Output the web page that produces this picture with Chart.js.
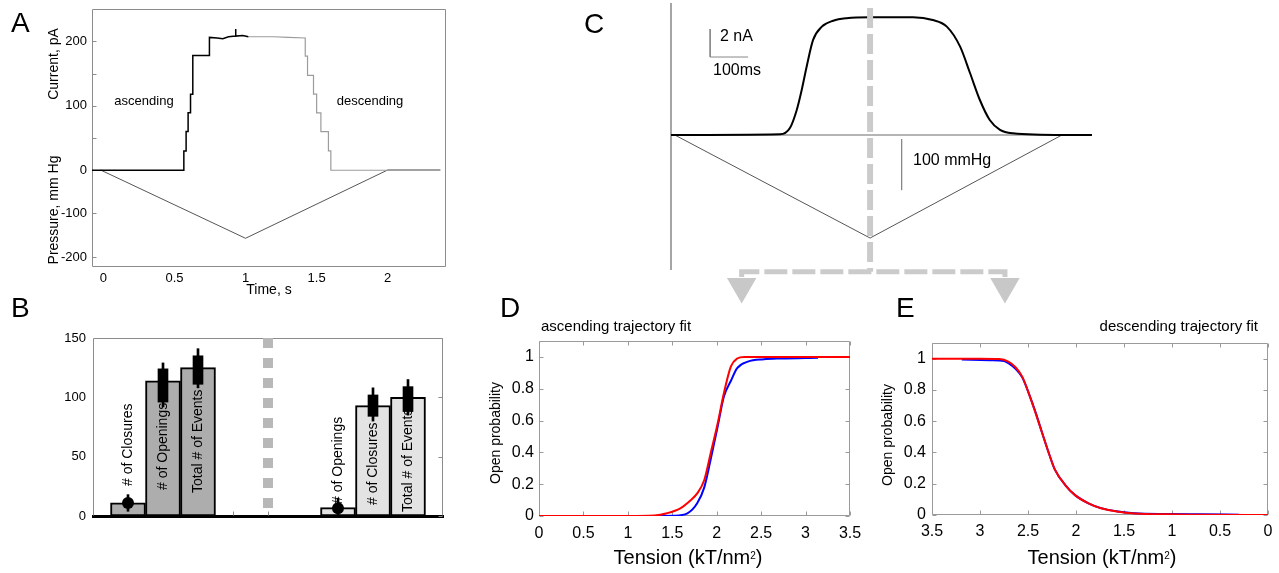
<!DOCTYPE html>
<html>
<head>
<meta charset="utf-8">
<title>Stretch-activated current and open probability fits</title>
<script src="https://cdn.jsdelivr.net/npm/chart.js@4.4.1/dist/chart.umd.min.js"></script>
<style>
  body { margin: 0; width: 1279px; height: 573px; position: relative; overflow: hidden; background: #fff;
         font-family: "Liberation Sans", Arial, sans-serif; color: #000; }
  canvas { position: absolute; left: 0; top: 0; }
  .t { position: absolute; white-space: nowrap; line-height: 1; transform: translateY(-50%); z-index: 5; }
  .c { transform: translate(-50%, -50%); }
  .v { transform: translate(-50%, -50%) rotate(-90deg); }
  .letter { font-size: 28px; }
  .sup { position: relative; top: -0.55em; font-size: 0.5em; }
</style>
</head>
<body>
<div class="t letter" style="left:11px;top:23px">A</div>
<div class="t letter" style="left:11px;top:308px">B</div>
<div class="t letter" style="left:584px;top:24px">C</div>
<div class="t letter" style="left:500px;top:308px">D</div>
<div class="t letter" style="left:896px;top:308px">E</div>

<div class="t c" style="left:144px;top:100px;font-size:13px">ascending</div>
<div class="t c" style="left:370px;top:100px;font-size:13px">descending</div>
<div class="t v" style="left:53px;top:64px;font-size:14px">Current, pA</div>
<div class="t v" style="left:53px;top:210px;font-size:14px">Pressure, mm Hg</div>
<div class="t c" style="left:269px;top:289px;font-size:14px">Time, s</div>

<div class="t" style="left:720px;top:36px;font-size:16px">2 nA</div>
<div class="t" style="left:713px;top:70px;font-size:16px">100ms</div>
<div class="t" style="left:913px;top:160px;font-size:16px">100 mmHg</div>

<div class="t" style="left:541px;top:325px;font-size:15px">ascending trajectory fit</div>
<div class="t v" style="left:495px;top:433px;font-size:14px">Open probability</div>
<div class="t c" style="left:688px;top:557px;font-size:20px">Tension (kT/nm<span class="sup">2</span>)</div>

<div class="t" style="right:21px;top:325px;font-size:15px">descending trajectory fit</div>
<div class="t v" style="left:887px;top:435px;font-size:14px">Open probability</div>
<div class="t c" style="left:1102px;top:557px;font-size:20px">Tension (kT/nm<span class="sup">2</span>)</div>

<script>
// ---- panel A: patch current (pA) and pressure ramp (mm Hg) vs time (s)
const aUpTime = [-0.08, 0.566, 0.566, 0.582, 0.582, 0.596, 0.596, 0.613, 0.613, 0.629, 0.629, 0.746, 0.746, 0.80, 0.84, 0.88, 0.93, 0.93, 0.932, 0.98, 1.02];
const aUpCurrent = [0, 0, 30, 30, 60, 60, 89, 89, 118, 118, 178, 178, 206, 205, 204, 207, 208, 219, 208, 209, 207];
const aDownTime = [1.02, 1.1, 1.2, 1.3, 1.42, 1.42, 1.436, 1.436, 1.478, 1.478, 1.50, 1.50, 1.53, 1.53, 1.583, 1.583, 1.60, 1.60, 2.37];
const aDownCurrent = [207, 207, 207, 206, 205, 177, 177, 147, 147, 118, 118, 89, 89, 60, 60, 30, 30, 0, 0];
const aPressTime = [-0.02, 1.0, 2.0, 2.37];
const aPressure = [0, -157, 0, 0];
const aCurrentTicks = [0, 50, 100, 150, 200];
const aPressureTicks = [-100, -200];

// ---- panel B: event counts
const bPositions = [1, 2, 3, 7, 8, 9];
const bCounts = [11, 114, 125, 7, 93, 100];
const bLabels = ['# of Closures', '# of Openings', 'Total # of Events', '# of Openings', '# of Closures', 'Total # of Events'];
const bWhiskerLow = [4, 92, 108, 0, 80, 85];
const bWhiskerHigh = [18, 129, 141, 15, 108, 115];
const bBoxLow = [null, 96, 111, null, 84, 88];
const bBoxHigh = [null, 124, 135, null, 102, 109];
const bMarker = [11, null, null, 6.5, null, null];
const bDividerX = 5;
const bDividerSpan = [150, 0];
const bTickX = [4, 5];

// ---- panel C: macroscopic current (nA) and pressure (mmHg) vs time (ms)
const cTime = [0, 287, 313, 331, 344, 357, 374, 397, 427, 462, 524, 637, 689, 726, 761, 787, 813, 839, 866, 900, 1032, 1108];
const cCurrent = [0, 0.05, 0.5, 1.79, 3.21, 4.88, 6.79, 7.74, 8.16, 8.34, 8.41, 8.41, 8.21, 7.74, 6.31, 4.43, 2.5, 1.07, 0.36, 0.12, 0, 0];
const cPressTime = [10, 524, 1029];
const cPressure = [0, -202, 0];
const cPressZeroTime = [0, 1032];
const cAxisSpan = [9.43, -9.64];
const cScaleBarTime = [103, 103, 203];
const cScaleBarCurrent = [7.57, 5.57, 5.57];
const cScaleBarPTime = [607, 607];
const cScaleBarPressure = [-8, -108];
const cPeakTime = 524;
const cPeakSpan = [9.07, -9.76];
const cSplitTime = [186, 186, 879, 879];
const cSplitLevel = [-10.14, -9.76, -9.76, -10.14];
const cArrowTime = [186, 879];
const cArrowLevel = [-10.82, -10.82];

// ---- panel D: ascending trajectory, open probability vs tension
const dFitTension = [0, 1.0, 1.3, 1.44, 1.59, 1.71, 1.78, 1.86, 1.93, 2.01, 2.08, 2.16, 2.23, 2.31, 3.5];
const dFitP = [0, 0, 0.003, 0.017, 0.048, 0.1, 0.142, 0.226, 0.39, 0.58, 0.77, 0.94, 0.99, 1, 1];
const dDataTension = [1.16, 1.52, 1.67, 1.78, 1.86, 1.93, 2.01, 2.08, 2.16, 2.23, 2.35, 2.53, 2.72, 3.14];
const dDataP = [0, 0.002, 0.017, 0.08, 0.18, 0.35, 0.56, 0.75, 0.85, 0.93, 0.97, 0.985, 0.99, 0.995];

// ---- panel E: descending trajectory
const eFitTension = [3.5, 3.0, 2.8, 2.7, 2.63, 2.56, 2.49, 2.42, 2.35, 2.28, 2.22, 2.11, 2.01, 1.87, 1.74, 1.56, 1.39, 1.05, 0.71, 0];
const eFitP = [1, 1, 0.998, 0.98, 0.945, 0.885, 0.775, 0.65, 0.52, 0.39, 0.29, 0.19, 0.127, 0.074, 0.043, 0.021, 0.01, 0.004, 0.002, 0];
const eDataTension = [3.19, 2.9, 2.75, 2.7, 2.63, 2.56, 2.49, 2.42, 2.35, 2.28, 2.22, 2.11, 2.01, 1.87, 1.74, 1.56, 1.39, 1.05, 0.71, 0.3];
const eDataP = [0.995, 0.99, 0.985, 0.97, 0.935, 0.88, 0.775, 0.655, 0.52, 0.39, 0.29, 0.19, 0.127, 0.075, 0.044, 0.022, 0.011, 0.006, 0.004, 0.002];

const W = 1279, H = 573;
const zip = (xs, ys) => xs.map((x, i) => ({ x, y: ys[i] }));

Chart.defaults.font.family = '"Liberation Sans", Arial, sans-serif';
Chart.defaults.font.size = 13;
Chart.defaults.color = '#000';
Chart.defaults.animation = false;
Chart.defaults.responsive = false;
Chart.defaults.events = [];
Chart.defaults.plugins.legend.display = false;
Chart.defaults.plugins.tooltip.enabled = false;
Chart.defaults.elements.point.radius = 0;
Chart.defaults.elements.line.borderCapStyle = 'butt';

// box round the plot area and small inward tick marks
const framePlugin = {
  id: 'frame',
  beforeDatasetsDraw(chart, args, opts) {
    if (!opts.sides) return;
    const { ctx, chartArea: a } = chart;
    const L = Math.round(a.left) + 0.5, R = Math.round(a.right) - 0.5;
    const T = Math.round(a.top) + 0.5, B = Math.round(a.bottom) - 0.5;
    ctx.save();
    ctx.strokeStyle = opts.color;
    ctx.lineWidth = 1;
    ctx.beginPath();
    if (opts.sides.includes('t')) { ctx.moveTo(L, T); ctx.lineTo(R, T); }
    if (opts.sides.includes('r')) { ctx.moveTo(R, T); ctx.lineTo(R, B); }
    if (opts.sides.includes('b')) { ctx.moveTo(L, B); ctx.lineTo(R, B); }
    if (opts.sides.includes('l')) { ctx.moveTo(L, T); ctx.lineTo(L, B); }
    (opts.marks || []).forEach(([id, side]) => {
      const s = chart.scales[id];
      s.ticks.forEach(t => {
        const p = Math.round(s.getPixelForValue(t.value)) + 0.5;
        if (side === 'left') { ctx.moveTo(L, p); ctx.lineTo(L + 4, p); }
        if (side === 'right') { ctx.moveTo(R, p); ctx.lineTo(R - 4, p); }
        if (side === 'bottom') { ctx.moveTo(p, B); ctx.lineTo(p, B - 4); }
        if (side === 'top') { ctx.moveTo(p, T); ctx.lineTo(p, T + 4); }
      });
    });
    ctx.stroke();
    ctx.restore();
  }
};

// rotated captions standing inside the bars of panel B (drawn under the error bars)
const barTextPlugin = {
  id: 'barText',
  afterDatasetDraw(chart, args, opts) {
    if (!opts.labels || args.index !== opts.dataset) return;
    const { ctx } = chart;
    const base = chart.scales.y.getPixelForValue(0);
    ctx.save();
    ctx.font = '14px "Liberation Sans", Arial, sans-serif';
    ctx.fillStyle = '#000';
    ctx.textAlign = 'left';
    ctx.textBaseline = 'middle';
    args.meta.data.forEach((bar, i) => {
      ctx.save();
      ctx.translate(bar.x, base - opts.lift[i]);
      ctx.rotate(-Math.PI / 2);
      ctx.fillText(opts.labels[i], 0, 0);
      ctx.restore();
    });
    ctx.restore();
  }
};

// labels of the pressure axis, which shares the left edge with the current axis
const pressureLabelPlugin = {
  id: 'pressureLabels',
  afterDraw(chart, args, opts) {
    if (!opts.axis) return;
    const { ctx, chartArea: a } = chart;
    const s = chart.scales[opts.axis];
    ctx.save();
    ctx.font = '13px "Liberation Sans", Arial, sans-serif';
    ctx.fillStyle = '#000';
    ctx.textAlign = 'right';
    ctx.textBaseline = 'middle';
    s.ticks.forEach(t => ctx.fillText(String(t.value), a.left - opts.padding, s.getPixelForValue(t.value)));
    ctx.restore();
  }
};
Chart.register(framePlugin, barTextPlugin, pressureLabelPlugin);

function canvasFor(id) {
  const c = document.createElement('canvas');
  c.id = id;
  c.width = W;
  c.height = H;
  document.body.insertBefore(c, document.body.firstChild);
  return c;
}
// fixed axis sizes so that the plot areas land where the figure has them
const fixW = w => s => { s.width = w; s.paddingTop = s.paddingBottom = s.paddingLeft = s.paddingRight = 0; };
const fixH = h => s => { s.height = h; s.paddingTop = s.paddingBottom = s.paddingLeft = s.paddingRight = 0; };
const axis = extra => Object.assign({
  type: 'linear',
  grid: { display: false, drawTicks: false },
  border: { display: false }
}, extra);
const setTicks = list => s => { s.ticks = list.map(value => ({ value })); };

// ---------- A
new Chart(canvasFor('panelA'), {
  type: 'line',
  data: {
    datasets: [
      { data: zip(aUpTime, aUpCurrent), borderColor: '#000', borderWidth: 1.5 },
      { data: zip(aDownTime, aDownCurrent), borderColor: '#9c9c9c', borderWidth: 1.2 },
      { data: zip(aPressTime, aPressure), borderColor: '#555', borderWidth: 1, yAxisID: 'y2' }
    ]
  },
  options: {
    devicePixelRatio: 1,
    layout: { autoPadding: false, padding: { left: 0, top: 9, right: W - 446, bottom: 0 } },
    scales: {
      x: axis({ min: -0.08, max: 2.41, afterFit: fixH(H - 267),
        ticks: { stepSize: 0.5, includeBounds: false, padding: 4, callback: v => v } }),
      y: axis({ min: -150, max: 250, afterFit: fixW(92), afterBuildTicks: setTicks(aCurrentTicks),
        ticks: { padding: 5, callback: v => (v % 100 === 0 ? v : '') } }),
      y2: axis({ display: false, min: -223, max: 370, afterBuildTicks: setTicks(aPressureTicks) })
    },
    plugins: {
      frame: { color: '#8c8c8c', sides: 'trbl', marks: [['y', 'left'], ['y2', 'left']] },
      pressureLabels: { axis: 'y2', padding: 5 }
    }
  }
});

// ---------- B
const bDark = '#adadad', bLight = '#e3e3e3';
const bBoxes = bPositions.map((x, i) => ({ x, y: [bBoxLow[i], bBoxHigh[i]] })).filter((d, i) => bBoxLow[i] !== null);
const bWhiskers = bPositions.map((x, i) => ({ x, y: [bWhiskerLow[i], bWhiskerHigh[i]] }));
const bMarkers = bPositions.map((x, i) => ({ x, y: bMarker[i] })).filter(d => d.y !== null);

new Chart(canvasFor('panelB'), {
  type: 'bar',
  data: {
    datasets: [
      { type: 'line', data: bMarkers, showLine: false, pointRadius: 6, pointBackgroundColor: '#000', pointBorderWidth: 0 },
      { data: bBoxes, backgroundColor: '#000', barThickness: 10, grouped: false },
      { data: bWhiskers, backgroundColor: '#000', barThickness: 2, grouped: false },
      { data: zip(bPositions, bCounts), backgroundColor: c => (c.dataIndex < 3 ? bDark : bLight),
        borderColor: '#000', borderWidth: 2, borderSkipped: false, barPercentage: 1, categoryPercentage: 1, grouped: false },
      { type: 'line', data: bDividerSpan.map(y => ({ x: bDividerX, y })), borderColor: '#b8b8b8', borderWidth: 10, borderDash: [10, 10] }
    ]
  },
  options: {
    devicePixelRatio: 1,
    layout: { autoPadding: false, padding: { left: 0, top: 338, right: W - 443, bottom: 0 } },
    scales: {
      x: axis({ min: 0, max: 10, offset: false, afterFit: fixH(H - 516), afterBuildTicks: setTicks(bTickX),
        ticks: { display: false }, border: { display: true, color: '#000', width: 3 } }),
      y: axis({ min: 0, max: 150, afterFit: fixW(93), ticks: { stepSize: 50, padding: 7 } })
    },
    plugins: {
      frame: { color: '#8c8c8c', sides: 'trl', marks: [['y', 'right'], ['x', 'bottom']] },
      barText: { dataset: 3, labels: bLabels, lift: [30, 26, 23, 12, 11, 4] }
    }
  }
});

// ---------- C
new Chart(canvasFor('panelC'), {
  type: 'line',
  data: {
    datasets: [
      { data: [{ x: cPeakTime, y: cPeakSpan[0] }, { x: cPeakTime, y: cPeakSpan[1] }], borderColor: '#cbcbcb', borderWidth: 6, borderDash: [20, 6] },
      { data: zip(cSplitTime, cSplitLevel), borderColor: '#cbcbcb', borderWidth: 5, borderDash: [23, 5] },
      { data: zip(cArrowTime, cArrowLevel), showLine: false, pointStyle: 'triangle', rotation: 180, pointRadius: 17,
        pointBackgroundColor: '#c8c8c8', pointBorderWidth: 0 },
      { data: zip(cTime, cCurrent), borderColor: '#000', borderWidth: 2, cubicInterpolationMode: 'monotone' },
      { data: cPressZeroTime.map(x => ({ x, y: 0 })), borderColor: '#b4b4b4', borderWidth: 2, yAxisID: 'y2' },
      { data: zip(cPressTime, cPressure), borderColor: '#555', borderWidth: 1, yAxisID: 'y2' },
      { data: zip(cScaleBarTime, cScaleBarCurrent), borderColor: '#888', borderWidth: 1 },
      { data: zip(cScaleBarPTime, cScaleBarPressure), borderColor: '#888', borderWidth: 1, yAxisID: 'y2' },
      { data: cAxisSpan.map(y => ({ x: 0, y })), borderColor: '#999', borderWidth: 1 }
    ]
  },
  options: {
    devicePixelRatio: 1,
    clip: false,
    layout: { autoPadding: false, padding: { left: 671, top: 0, right: W - 1095, bottom: H - 310 } },
    scales: {
      x: axis({ display: false, min: 0, max: 1116 }),
      y: axis({ display: false, min: -12.5, max: 9.643 }),
      y2: axis({ display: false, min: -343.1, max: 264.7 })
    }
  }
});

// ---------- D
const probAxis = (left, pad) => axis({ min: 0, max: 1.1, afterFit: fixW(left),
  ticks: { stepSize: 0.2, includeBounds: false, padding: pad, font: { size: 16 }, callback: v => v } });
const allMarks = [['x', 'bottom'], ['x', 'top'], ['y', 'left'], ['y', 'right']];

new Chart(canvasFor('panelD'), {
  type: 'line',
  data: {
    datasets: [
      { data: zip(dFitTension, dFitP), borderColor: '#ff0000', borderWidth: 2, cubicInterpolationMode: 'monotone' },
      { data: zip(dDataTension, dDataP), borderColor: '#0000ff', borderWidth: 2, cubicInterpolationMode: 'monotone' }
    ]
  },
  options: {
    devicePixelRatio: 1,
    layout: { autoPadding: false, padding: { left: 0, top: 341, right: W - 850, bottom: 0 } },
    scales: {
      x: axis({ min: 0, max: 3.5, afterFit: fixH(H - 516),
        ticks: { stepSize: 0.5, padding: 8, font: { size: 16 }, callback: v => v } }),
      y: probAxis(539, 5)
    },
    plugins: { frame: { color: '#9a9a9a', sides: 'trbl', marks: allMarks } }
  }
});

// ---------- E
new Chart(canvasFor('panelE'), {
  type: 'line',
  data: {
    datasets: [
      { data: zip(eFitTension, eFitP), borderColor: '#ff0000', borderWidth: 2, cubicInterpolationMode: 'monotone' },
      { data: zip(eDataTension, eDataP), borderColor: '#0000ff', borderWidth: 2, cubicInterpolationMode: 'monotone' }
    ]
  },
  options: {
    devicePixelRatio: 1,
    layout: { autoPadding: false, padding: { left: 0, top: 343, right: W - 1268, bottom: 0 } },
    scales: {
      x: axis({ min: 0, max: 3.5, reverse: true, afterFit: fixH(H - 515),
        ticks: { stepSize: 0.5, padding: 7, font: { size: 16 }, callback: v => v } }),
      y: probAxis(932, 6)
    },
    plugins: { frame: { color: '#9a9a9a', sides: 'trbl', marks: allMarks } }
  }
});
</script>
</body>
</html>
